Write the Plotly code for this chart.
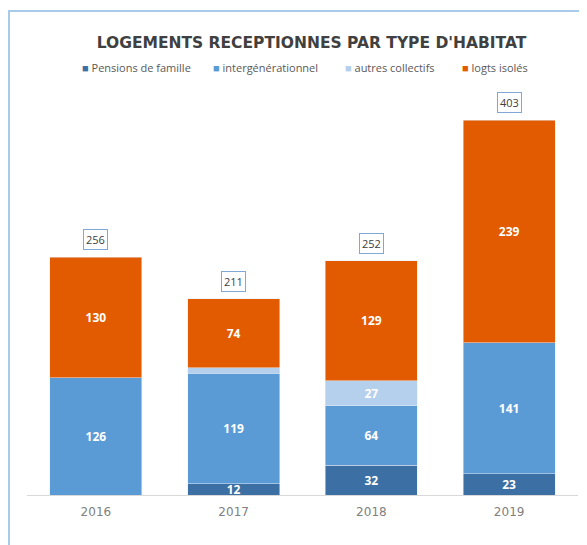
import plotly.graph_objects as go

years = ["2016", "2017", "2018", "2019"]
pensions = [0, 12, 32, 23]
intergen = [126, 119, 64, 141]
autres = [0, 6, 27, 0]
isoles = [130, 74, 129, 239]
totals = [256, 211, 252, 403]

series_names = ["Pensions de famille", "intergénérationnel", "autres collectifs", "logts isolés"]
series_vals = [pensions, intergen, autres, isoles]
series_colors = ["#3C6FA4", "#5B9BD5", "#B4D0EC", "#E35B00"]

# page body has an 8px margin: figure canvas starts at window (8, 8)
OFF = 8
W, H = 587 - OFF, 545 - OFF
ML, MR, MT, MB = 27 - OFF, 9, 86 - OFF, 50
PW, PH = W - ML - MR, H - MT - MB


def px(x):  # window pixel -> paper x
    return (x - OFF - ML) / PW


def py(y):  # window pixel -> paper y
    return (H - MB - (y - OFF)) / PH


fig = go.Figure()
for name, vals, col in zip(series_names, series_vals, series_colors):
    fig.add_trace(go.Bar(
        x=years, y=vals, name=name, marker_color=col,
        text=[str(v) if v >= 10 else "" for v in vals],
        textposition="inside", insidetextanchor="middle", textangle=0,
        constraintext="none",
        textfont=dict(color="white", size=12, family="Open Sans", weight="bold"),
        hoverinfo="skip", showlegend=False,
    ))

for i, t in enumerate(totals):
    fig.add_annotation(
        x=i, y=t, text=str(t), showarrow=False, yanchor="bottom", yshift=7,
        font=dict(size=11, color="#404040", family="Open Sans"),
        bordercolor="#7FA8D6", borderwidth=1, borderpad=2, bgcolor="white",
    )

# legend drawn as text
leg_x = [80, 211, 343, 460]
for name, col, lx in zip(series_names, series_colors, leg_x):
    fig.add_annotation(
        xref="paper", yref="paper", x=px(lx), y=py(67), xanchor="left", yanchor="middle",
        showarrow=False,
        text=f'<span style="color:{col}">■</span> {name}',
        font=dict(size=11, color="#595959", family="Open Sans"),
    )

fig.add_shape(type="rect", xref="paper", yref="paper",
              x0=px(9), y0=-0.3, x1=1.2, y1=py(11),
              line=dict(color="#A8CBEA", width=2), fillcolor="rgba(0,0,0,0)", layer="below")

fig.update_layout(
    width=W, height=H,
    barmode="stack", bargap=0.333,
    paper_bgcolor="white", plot_bgcolor="white",
    margin=dict(l=ML, r=MR, t=MT, b=MB),
    title=dict(text="LOGEMENTS RECEPTIONNES PAR TYPE D'HABITAT",
               x=(311.5 - OFF) / W, xanchor="center", y=1 - (43 - OFF) / H, yanchor="middle",
               font=dict(family="DejaVu Sans", size=15.5, color="#404040", weight="bold")),
    showlegend=False,
    xaxis=dict(type="category", categoryorder="array", categoryarray=years,
               range=[-0.5, 3.5], showline=True, linecolor="#D9D9D9", linewidth=1, ticks="",
               ticklabelstandoff=6,
               tickfont=dict(size=12, color="#808080", family="DejaVu Sans"),
               showgrid=False, zeroline=False),
    yaxis=dict(range=[0, 440], visible=False, showgrid=False, zeroline=False),
)

fig.write_html("out.html")
